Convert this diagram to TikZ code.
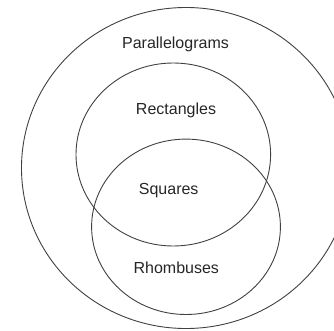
\documentclass[tikz,border=0pt]{standalone}
\usepackage{fontspec}
\setmainfont{Liberation Sans}
\begin{document}
\begin{tikzpicture}[x=1pt,y=-1pt,
  setline/.style={draw=black!75,line width=0.9pt},
  setlabel/.style={font=\fontsize{16}{19}\selectfont,text=black!85,inner sep=0pt}]
\useasboundingbox (0,0) rectangle (334,331);
\clip (0,0) rectangle (334,331);
\draw[setline] (186,168) ellipse [x radius=164.5, y radius=160.5];
\draw[setline] (173.3,154.5) ellipse [x radius=97.3, y radius=91.5];
\draw[setline] (186,226.8) ellipse [x radius=94.4, y radius=87.7];
\node[setlabel] (par) at (175.5,44) {Parallelograms};
\node[setlabel] (rec) at (176,110) {Rectangles};
\node[setlabel] (squ) at (168.7,191) {Squares};
\node[setlabel] (rho) at (176.3,268) {Rhombuses};
\end{tikzpicture}
\end{document}
